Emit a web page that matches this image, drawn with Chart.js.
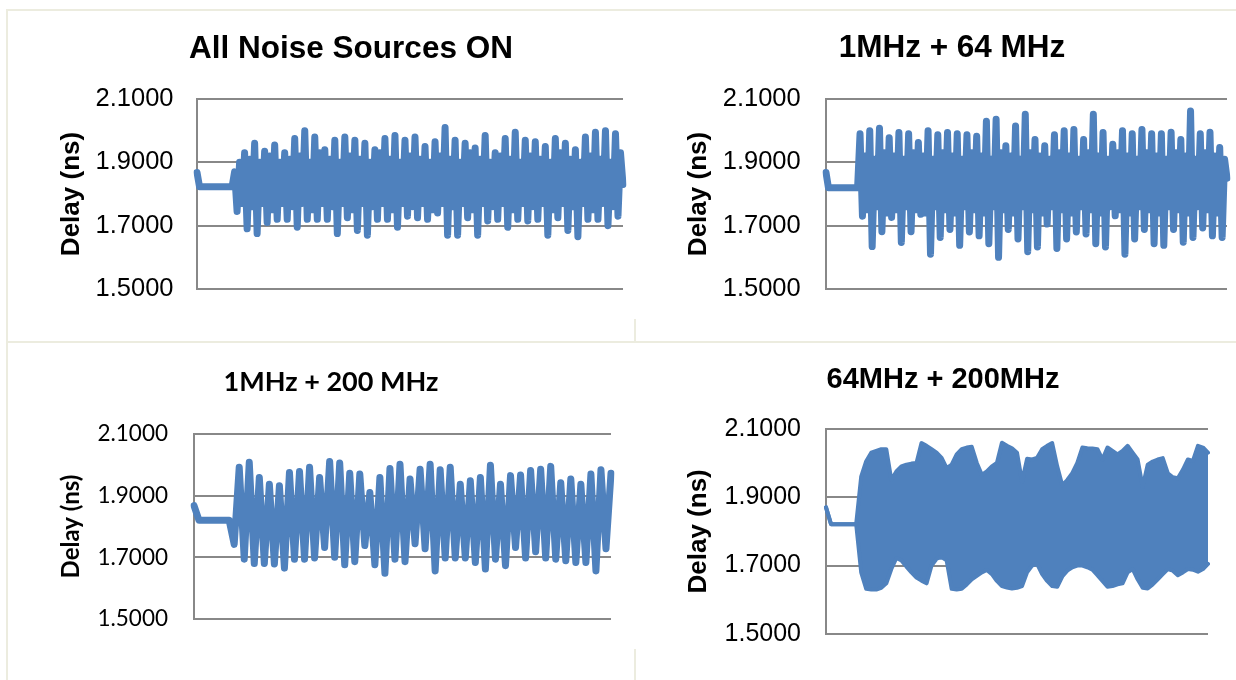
<!DOCTYPE html>
<html><head><meta charset="utf-8">
<script src="https://cdn.jsdelivr.net/npm/chart.js"></script>
<style>
html,body{margin:0;padding:0;background:#fff;}
#wrap{position:relative;width:1236px;height:680px;overflow:hidden;background:#fff;}
canvas{position:absolute;}
.fr{position:absolute;background:#ececdf;}
</style></head><body>
<div id="wrap">
<div class="fr" style="left:6px;top:9px;width:1230px;height:2px"></div>
<div class="fr" style="left:6px;top:9px;width:2px;height:671px"></div>
<div class="fr" style="left:6px;top:341px;width:1230px;height:2px"></div>
<div class="fr" style="left:634px;top:319px;width:2px;height:24px"></div>
<div class="fr" style="left:634px;top:649px;width:2px;height:31px"></div>
<canvas id="c1" width="634" height="335" style="left:0;top:0"></canvas>
<canvas id="c2" width="602" height="335" style="left:634px;top:0"></canvas>
<canvas id="c3" width="634" height="345" style="left:0;top:335px"></canvas>
<canvas id="c4" width="602" height="345" style="left:634px;top:335px"></canvas>
</div>
<script>
const yTickValues = [1.5, 1.7, 1.9, 2.1];
const panelTitles = ['All Noise Sources ON', '1MHz + 64 MHz', '1MHz + 200 MHz', '64MHz + 200MHz'];
const yAxisTitle = 'Delay (ns)';

const p1Delay = [
1.868,1.823,1.823,1.823,1.823,1.823,1.823,1.823,1.823,1.823,1.823,1.823,1.823,1.823,1.823,
1.87,1.745,1.90,1.77, 1.93,1.69,1.91,1.76, 1.96,1.675,1.90,1.77, 1.935,1.71,1.92,1.75,
1.955,1.72,1.90,1.77, 1.93,1.72,1.91,1.76, 1.975,1.695,1.92,1.77, 2.0,1.72,1.90,1.75,
1.98,1.72,1.93,1.77, 1.94,1.72,1.91,1.76, 1.97,1.675,1.90,1.77, 1.98,1.725,1.92,1.75,
1.97,1.685,1.91,1.77, 1.96,1.67,1.90,1.76, 1.94,1.72,1.93,1.77, 1.975,1.72,1.91,1.75,
1.985,1.695,1.90,1.77, 1.97,1.73,1.92,1.76, 1.98,1.725,1.91,1.77, 1.95,1.72,1.90,1.75,
1.965,1.74,1.92,1.77, 2.01,1.67,1.91,1.76, 1.97,1.67,1.90,1.77, 1.96,1.725,1.93,1.75,
1.945,1.67,1.91,1.77, 1.985,1.715,1.90,1.76, 1.93,1.72,1.92,1.77, 1.975,1.695,1.91,1.75,
1.995,1.72,1.90,1.77, 1.97,1.715,1.92,1.76, 1.965,1.72,1.91,1.77, 1.95,1.67,1.90,1.75,
1.975,1.725,1.93,1.77, 1.96,1.685,1.91,1.76, 1.94,1.665,1.90,1.77, 1.98,1.72,1.92,1.75,
1.995,1.72,1.91,1.77, 2.0,1.70,1.90,1.76, 1.99,1.73,1.93,1.83
];

const p2Delay = [
1.868,1.82,1.82,1.82,1.82,1.82,1.82,1.82,1.82,1.82,1.82,1.82,1.82,1.82,
1.99,1.73,1.92,1.75, 2.0,1.634,1.91,1.76, 2.008,1.681,1.93,1.74, 1.978,1.726,1.92,1.75,
1.994,1.647,1.91,1.76, 1.99,1.681,1.93,1.75, 1.963,1.736,1.92,1.74, 2.0,1.61,1.91,1.76,
1.987,1.663,1.93,1.75, 1.994,1.688,1.92,1.74, 1.99,1.638,1.91,1.76, 1.987,1.68,1.93,1.75,
1.982,1.668,1.92,1.74, 2.03,1.643,1.91,1.76, 2.036,1.60,1.93,1.75, 1.952,1.688,1.92,1.74,
2.015,1.658,1.91,1.76, 2.052,1.618,1.93,1.75, 1.972,1.633,1.92,1.74, 1.952,1.705,1.91,1.76,
1.987,1.628,1.93,1.75, 2.0,1.658,1.92,1.74, 2.004,1.68,1.91,1.76, 1.972,1.674,1.93,1.75,
2.052,1.643,1.92,1.74, 1.994,1.633,1.91,1.76, 1.957,1.731,1.93,1.75, 2.0,1.61,1.92,1.74,
1.99,1.658,1.91,1.76, 2.004,1.688,1.93,1.75, 1.99,1.643,1.92,1.74, 1.99,1.638,1.91,1.76,
1.995,1.688,1.93,1.75, 1.972,1.648,1.92,1.74, 2.062,1.663,1.91,1.76, 1.99,1.693,1.93,1.75,
1.995,1.668,1.92,1.74, 1.947,1.663,1.91,1.85
];

const p3Delay = [
1.868,1.82,1.82,1.82,1.82,1.82,1.82,1.82,
1.742,1.992, 1.694,2.008, 1.68,1.959, 1.68,1.937, 1.678,1.932, 1.665,1.975, 1.694,1.978, 1.694,1.992,
1.698,1.959, 1.732,2.011, 1.70,2.006, 1.676,1.973, 1.686,1.97, 1.738,1.91, 1.676,1.959, 1.648,1.988,
1.694,2.002, 1.686,1.954, 1.744,1.986, 1.728,2.002, 1.656,1.984, 1.698,1.992, 1.698,1.937, 1.698,1.948,
1.683,1.959, 1.662,1.999, 1.694,1.937, 1.673,1.965, 1.732,1.967, 1.698,1.982, 1.718,1.986, 1.698,1.995,
1.694,1.942, 1.689,1.954, 1.683,1.937, 1.683,1.97, 1.656,1.984, 1.728,1.973
];

const p4Upper = [
1.87,1.821,1.821,1.821,1.821,1.821,1.821,
1.96,2.005,2.03,2.035,2.04,2.04,1.95,1.975,1.99,1.995,1.998,2.0,2.058,2.05,2.04,2.03,2.015,1.985,
1.995,2.025,2.04,2.045,2.047,2.0,1.965,1.975,1.99,2.0,2.059,2.05,2.043,2.03,1.945,2.012,2.01,2.015,
2.04,2.05,2.058,1.99,1.935,1.95,1.97,2.0,2.045,2.043,2.042,2.04,2.01,2.045,2.035,2.025,2.035,2.05,
2.03,2.01,1.93,1.995,2.004,2.01,2.014,1.97,1.958,1.955,1.98,2.01,2.006,2.05,2.045,2.03
];
const p4Lower = [
1.87,1.821,1.821,1.821,1.821,1.821,1.821,
1.68,1.632,1.63,1.63,1.635,1.648,1.69,1.722,1.715,1.697,1.68,1.665,1.656,1.648,1.70,1.72,1.725,1.715,
1.632,1.63,1.632,1.645,1.66,1.67,1.68,1.687,1.675,1.655,1.64,1.636,1.633,1.635,1.64,1.68,1.70,1.705,
1.675,1.655,1.64,1.638,1.668,1.685,1.695,1.70,1.70,1.695,1.688,1.672,1.655,1.638,1.64,1.645,1.648,1.68,
1.69,1.66,1.635,1.633,1.645,1.66,1.675,1.69,1.685,1.672,1.68,1.69,1.688,1.682,1.69,1.705
];

const BLUE = '#4f81bd';
const GRID = '#888888';
const LS = "'Liberation Sans', Arial, sans-serif";
const LATO = "Lato, 'Open Sans', sans-serif";

function panel(id, o) {
  const labels = o.datasets[0].data.map((_, i) => i);
  return new Chart(document.getElementById(id), {
    type: 'line',
    data: { labels: labels, datasets: o.datasets },
    options: {
      responsive: false, animation: false, events: [],
      layout: { padding: o.pad },
      plugins: {
        legend: { display: false }, tooltip: { enabled: false },
        title: { display: true, text: o.title, color: '#000', font: o.titleFont, padding: o.titlePad }
      },
      elements: { point: { radius: 0 }, line: { tension: 0, borderJoinStyle: 'round', borderCapStyle: 'round' } },
      scales: {
        x: { display: false },
        y: {
          min: 1.5, max: 2.1,
          afterBuildTicks: s => { s.ticks = yTickValues.map(v => ({ value: v })); },
          afterFit: s => { s.width = o.yWidth; },
          grid: { color: GRID, lineWidth: 2, drawTicks: false },
          border: { display: true, color: GRID, width: 2 },
          ticks: { color: '#000', font: o.tickFont, padding: o.tickPad, callback: v => Number(v).toFixed(4) },
          title: { display: true, text: yAxisTitle, color: '#000', font: o.yTitleFont, padding: { top: o.yTitlePad, bottom: 0 } }
        }
      }
    }
  });
}

const line = (d, w) => ({ data: d, borderColor: BLUE, borderWidth: w, fill: false });

panel('c1', {
  datasets: [line(p1Delay, 7)], title: panelTitles[0],
  pad: { left: 79, top: 0, right: 11, bottom: 46 }, yWidth: 118,
  titleFont: { family: LS, size: 31.5, weight: 'bold', lineHeight: 1.2 }, titlePad: { top: 30.1, bottom: 31.1 },
  tickFont: { family: LS, size: 25.5 }, tickPad: 23.5,
  yTitleFont: { family: LS, size: 26, weight: 'bold', lineHeight: 1.2 }, yTitlePad: -23.2
});
panel('c2', {
  datasets: [line(p2Delay, 7)], title: panelTitles[1],
  pad: { left: 43, top: 0, right: 9, bottom: 46 }, yWidth: 149,
  titleFont: { family: LS, size: 31.5, weight: 'bold', lineHeight: 1.2 }, titlePad: { top: 29.5, bottom: 31.7 },
  tickFont: { family: LS, size: 25.5 }, tickPad: 25.3,
  yTitleFont: { family: LS, size: 26, weight: 'bold', lineHeight: 1.2 }, yTitlePad: 6.4
});
panel('c3', {
  datasets: [line(p3Delay, 7)], title: panelTitles[2],
  pad: { left: 51, top: 0, right: 23, bottom: 61 }, yWidth: 143,
  titleFont: { family: LATO, size: 27, weight: 'bold', lineHeight: 1.2 }, titlePad: { top: 31.3, bottom: 35.3 },
  tickFont: { family: LATO, size: 22.5 }, tickPad: 26,
  yTitleFont: { family: LATO, size: 24, weight: 'bold', lineHeight: 1.2 }, yTitlePad: 5.6
});
panel('c4', {
  datasets: [
    { data: p4Upper, borderColor: BLUE, borderWidth: 4, fill: false },
    { data: p4Lower, borderColor: BLUE, borderWidth: 4, backgroundColor: BLUE, fill: '-1' }
  ], title: panelTitles[3],
  pad: { left: 44, top: 0, right: 28, bottom: 46 }, yWidth: 148,
  titleFont: { family: LS, size: 29, weight: 'bold', lineHeight: 1.2 }, titlePad: { top: 27.3, bottom: 31.6 },
  tickFont: { family: LS, size: 25 }, tickPad: 25,
  yTitleFont: { family: LS, size: 26, weight: 'bold', lineHeight: 1.2 }, yTitlePad: 5.4
});
</script>
</body></html>
